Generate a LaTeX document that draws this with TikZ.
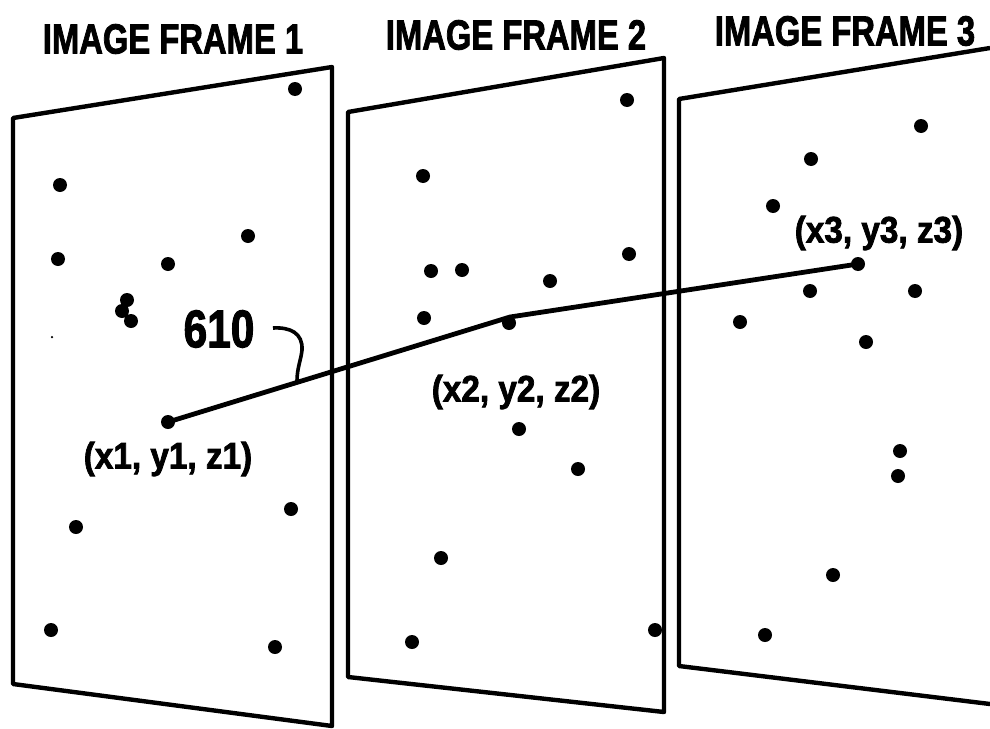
\documentclass[tikz,border=0pt]{standalone}
\usepackage{fontspec}
\setmainfont{Liberation Sans}[BoldFeatures={FakeBold=2.2}]
\begin{document}
\begin{tikzpicture}[
  x=1pt,y=-1pt,
  frame/.style={draw,line width=4.4pt,line join=round},
  spot/.style={circle,fill=black,inner sep=0pt,minimum width=14pt,minimum height=13pt},
  track/.style={draw,line width=4.8pt},
  title/.style={inner sep=0pt,font=\bfseries\fontsize{42}{42}\selectfont,xscale=0.78},
  coord/.style={inner sep=0pt,font=\bfseries\fontsize{37}{37}\selectfont,xscale=0.90},
]
\useasboundingbox (0,0) rectangle (990,728);
% frames
\draw[frame] (13,118) -- (332,67) -- (332,726) -- (13,684) -- cycle;
\draw[frame] (348,112) -- (664,58) -- (664,712) -- (348,677) -- cycle;
\draw[frame] (990,48) -- (679,99) -- (679,666) -- (990,704);
% titles
\node[title] (title1) at (173,39) {IMAGE FRAME 1};
\node[title] (title2) at (516,35) {IMAGE FRAME 2};
\node[title] (title3) at (845,31) {IMAGE FRAME 3};
% frame 1 spots
\foreach \px/\py [count=\i] in {295/89,60/185,248/236,58/259,168/264,127/300,122/311,131/321,291/509,76/527,51/630,275/647}
  \node[spot] (a\i) at (\px,\py) {};
\node[circle,fill=black,inner sep=0pt,minimum size=2.5pt] (speck) at (52,337) {};
% frame 2 spots
\foreach \px/\py [count=\i] in {627/100,423/176,629/254,431/271,462/270,550/281,424/318,519/429,578/469,441/558,412/642,655/630}
  \node[spot] (b\i) at (\px,\py) {};
% frame 3 spots
\foreach \px/\py [count=\i] in {921/126,811/159,773/206,810/291,915/291,740/322,866/342,900/451,898/476,833/575,765/635}
  \node[spot] (c\i) at (\px,\py) {};
% track
\node[spot] (p1) at (168,422) {};
\node[spot] (p2) at (509,323) {};
\node[spot] (p3) at (858,264) {};
\coordinate (bend) at (510,317);
\draw[track] (p1.center) -- (bend) -- (p3.center);
% labels
\node[coord] (l1) at (168,459) {(x1, y1, z1)};
\node[coord] (l2) at (516,392) {(x2, y2, z2)};
\node[coord] (l3) at (879,233) {(x3, y3, z3)};
\node[inner sep=0pt,font=\bfseries\fontsize{53}{53}\selectfont,xscale=0.80] (n610) at (219,329) {610};
\coordinate (hookstart) at (273,328);
\coordinate (hookend) at (297,381);
\draw[line width=3.6pt] (hookstart) .. controls (290,327) and (303,333) .. (302,350) .. controls (301,360) and (297,368) .. (hookend);
\end{tikzpicture}
\end{document}
